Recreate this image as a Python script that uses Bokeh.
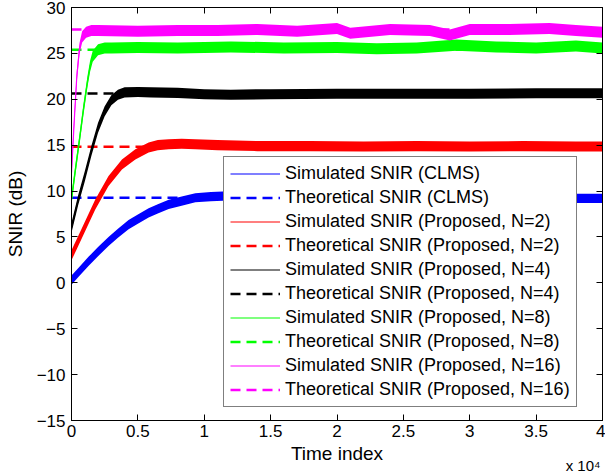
import numpy as np
from bokeh.plotting import figure
from bokeh.models import (Range1d, LinearAxis, FixedTicker, CustomJSTickFormatter,
                          Legend, LegendItem, Title)
from bokeh.embed import file_html
from bokeh.resources import INLINE

FONT = "Liberation Sans"

# ---------------- data ----------------
x_ticks = [0, 5000, 10000, 15000, 20000, 25000, 30000, 35000, 40000]
y_ticks = [-15, -10, -5, 0, 5, 10, 15, 20, 25, 30]

theory_x = [0, 40000]
theory_clms = 9.27
theory_n2 = 14.82
theory_n4 = 20.62
theory_n8 = 25.4
theory_n16 = 27.6

# simulated SNIR (centre of the noisy trace) and half spread of the noise band
clms_x = [0, 500, 1280, 2000, 2790, 3500, 4300, 5000, 5810, 6500, 7320, 8300, 9330,
          10500, 11400, 13000, 16000, 20000, 25000, 30000, 35000, 38000, 40000]
clms_y = [0.3, 1.1, 2.33, 3.4, 4.5, 5.4, 6.35, 6.95, 7.63, 8.05, 8.54, 8.9, 9.27,
          9.4, 9.45, 9.4, 9.35, 9.3, 9.3, 9.25, 9.2, 9.2, 9.2]
clms_spread = 0.5

n2_x = [0, 780, 1790, 2790, 3800, 4810, 5810, 6500, 7320, 8300, 9330, 11000, 14000,
        18000, 22000, 26000, 30000, 34000, 38000, 40000]
n2_y = [3.0, 5.4, 8.54, 11.1, 12.9, 14.0, 14.75, 15.0, 15.1, 15.15, 15.1, 15.0, 14.9,
        14.9, 14.85, 14.9, 14.85, 14.9, 14.85, 14.85]
n2_spread = 0.55

n4_x = [0, 500, 1000, 1500, 2000, 2500, 3000, 3500, 4000, 5000, 6000, 8000, 10000,
        12000, 15000, 20000, 25000, 30000, 35000, 40000]
n4_y = [6.0, 9.0, 11.6, 14.4, 16.9, 18.7, 19.9, 20.5, 20.75, 20.8, 20.75, 20.7, 20.55,
        20.5, 20.55, 20.6, 20.6, 20.6, 20.65, 20.65]
n4_spread = 0.55

n8_x = [0, 300, 600, 900, 1200, 1400, 1600, 2000, 2500, 3000, 5000, 8000, 12000,
        16000, 20000, 23000, 26000, 29000, 32000, 35000, 38000, 40000]
n8_y = [9.1, 12.4, 15.6, 18.9, 21.9, 23.6, 24.7, 25.4, 25.6, 25.6, 25.65, 25.6, 25.7,
        25.6, 25.65, 25.5, 25.6, 25.9, 25.7, 25.6, 25.8, 25.6]
n8_spread = 0.6

n16_x = [0, 200, 400, 600, 800, 1100, 1500, 2000, 5000, 8000, 11000, 14000, 17000,
         20000, 21000, 24000, 27000, 28500, 30000, 33000, 36000, 38000, 40000]
n16_y = [12.0, 17.5, 22.5, 25.5, 26.8, 27.3, 27.5, 27.5, 27.4, 27.5, 27.5, 27.6, 27.4,
         27.7, 27.2, 27.6, 27.5, 27.0, 27.6, 27.6, 27.7, 27.5, 27.3]
n16_spread = 0.6

labels = ["CLMS", "Proposed, N=2", "Proposed, N=4", "Proposed, N=8", "Proposed, N=16"]
colors = ["#0000ff", "#ff0000", "#000000", "#00ff00", "#ff00ff"]
x_multiplier = "x 10\u2074"

# ---------------- figure ----------------
p = figure(width=605, height=476,
           x_range=Range1d(0, 40000), y_range=Range1d(-15, 30),
           output_backend="svg", toolbar_location=None,
           min_border_left=71, min_border_right=3, min_border_top=7, min_border_bottom=56)
p.background_fill_color = "white"
p.border_fill_color = "white"
p.outline_line_color = "black"
p.outline_line_width = 1
p.xgrid.grid_line_color = None
p.ygrid.grid_line_color = None

xf = CustomJSTickFormatter(code="return (tick/10000).toString();")
yf = CustomJSTickFormatter(code="return tick < 0 ? '\\u2212' + Math.abs(tick) : tick.toString();")

for ax in p.xaxis:
    ax.ticker = FixedTicker(ticks=x_ticks)
    ax.formatter = xf
    ax.axis_label = "Time index"
for ax in p.yaxis:
    ax.ticker = FixedTicker(ticks=y_ticks)
    ax.formatter = yf
    ax.axis_label = "SNIR (dB)"

for ax in list(p.xaxis) + list(p.yaxis):
    ax.major_tick_in = 6
    ax.major_tick_out = 0
    ax.minor_tick_line_color = None
    ax.major_tick_line_color = "black"
    ax.axis_line_color = "black"
    ax.major_label_text_font = FONT
    ax.major_label_text_font_size = "17px"
    ax.major_label_text_color = "black"
    ax.axis_label_text_font = FONT
    ax.axis_label_text_font_size = "19px"
    ax.axis_label_text_font_style = "normal"
    ax.axis_label_text_color = "black"
p.xaxis.major_label_standoff = 4
p.xaxis.axis_label_standoff = 3
p.yaxis.major_label_standoff = 6
p.yaxis.axis_label_standoff = 8

# mirrored tick-only axes (top / right)
top_ax = LinearAxis(ticker=FixedTicker(ticks=x_ticks), major_label_text_font_size="0px",
                    major_tick_in=6, major_tick_out=0, minor_tick_line_color=None,
                    major_label_standoff=0, axis_line_color="black")
right_ax = LinearAxis(ticker=FixedTicker(ticks=y_ticks), major_label_text_font_size="0px",
                      major_tick_in=6, major_tick_out=0, minor_tick_line_color=None,
                      major_label_standoff=0, axis_line_color="black")
p.add_layout(top_ax, "above")
p.add_layout(right_ax, "right")

# theoretical lines (drawn first so the simulated traces sit on top)
theory_vals = [theory_clms, theory_n2, theory_n4, theory_n8, theory_n16]
theory_renderers = []
for v, c in zip(theory_vals, colors):
    r = p.line(theory_x, [v, v], line_color=c, line_width=2.5, line_dash="10 6")
    theory_renderers.append(r)

# simulated traces as noise bands
sims = [(clms_x, clms_y, clms_spread), (n2_x, n2_y, n2_spread), (n4_x, n4_y, n4_spread),
        (n8_x, n8_y, n8_spread), (n16_x, n16_y, n16_spread)]
sim_renderers = []
for (sx, sy, sp), c in zip(sims, colors):
    cy = np.asarray(sy, dtype=float)
    p.varea(x=sx, y1=cy - sp, y2=cy + sp, fill_color=c, fill_alpha=1.0)
    r = p.line(x=sx, y=list(cy), line_color=c, line_width=1.2, line_alpha=1.0)
    sim_renderers.append(r)

items = []
for lab, rs, rt in zip(labels, sim_renderers, theory_renderers):
    items.append(LegendItem(label="Simulated SNIR (%s)" % lab, renderers=[rs]))
    items.append(LegendItem(label="Theoretical SNIR (%s)" % lab, renderers=[rt]))

legend = Legend(items=items, location=(152, 13),
                label_text_font=FONT, label_text_font_size="18px",
                label_text_color="black",
                glyph_width=50, glyph_height=21, label_height=21, label_standoff=5,
                spacing=3, padding=6, margin=0,
                border_line_color="black", border_line_width=1,
                background_fill_color="white", background_fill_alpha=1.0)
p.add_layout(legend, "center")

# "x 10^4" multiplier as a right-aligned title in the bottom panel
mult = Title(text=x_multiplier, align="right", vertical_align="top",
             text_font=FONT, text_font_size="15px",
             text_font_style="normal", text_color="black", standoff=-20, offset=2)
p.add_layout(mult, "below")

open("out.html", "w").write(file_html(p, INLINE))
